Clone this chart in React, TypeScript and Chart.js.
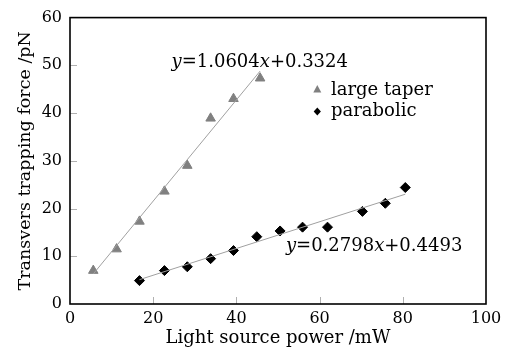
import React, { useEffect, useRef } from "react";
import { Chart, registerables } from "chart.js";

Chart.register(...registerables);

const taperX = [5.6, 11.2, 16.7, 22.7, 28.2, 33.8, 39.3, 45.7];
const taperY = [7.0, 11.5, 17.3, 23.6, 29.0, 38.9, 43.0, 47.3];
const paraX = [16.7, 22.7, 28.2, 33.8, 39.3, 44.9, 50.5, 55.9, 61.9, 70.3, 75.8, 80.6];
const paraY = [4.9, 7.0, 7.8, 9.5, 11.2, 14.1, 15.3, 16.1, 16.1, 19.4, 21.1, 24.4];
const taperFitX = [5.6, 45.7];
const taperFitY = [6.3, 48.8];
const paraFitX = [16.7, 80.6];
const paraFitY = [5.1, 23.0];
const legendLabels = ["large taper", "parabolic"];
const eq1 = { x: 24.4, y: 49.7, parts: [["y", true], ["=1.0604", false], ["x", true], ["+0.3324", false]] as [string, boolean][] };
const eq2 = { x: 51.9, y: 11.0, parts: [["y", true], ["=0.2798", false], ["x", true], ["+0.4493", false]] as [string, boolean][] };
const xTitle = "Light source power /mW";
const yTitle = "Transvers trapping force /pN";

const SERIF = "'DejaVu Serif', serif";

function pts(xs: number[], ys: number[]) {
  return xs.map((x, i) => ({ x, y: ys[i] }));
}

const overlay = {
  id: "overlay",
  afterDraw(chart: any) {
    const ctx = chart.ctx as CanvasRenderingContext2D;
    const { left, right, top, bottom } = chart.chartArea;
    const xs = chart.scales.x;
    const ys = chart.scales.y;
    ctx.save();
    // inward ticks
    ctx.strokeStyle = "#b0b0b0";
    ctx.lineWidth = 1;
    xs.ticks.forEach((t: any) => {
      if (t.value <= 0 || t.value >= 100) return;
      const px = Math.round(xs.getPixelForValue(t.value)) + 0.5;
      ctx.beginPath();
      ctx.moveTo(px, bottom);
      ctx.lineTo(px, bottom - 7);
      ctx.stroke();
    });
    ys.ticks.forEach((t: any) => {
      if (t.value <= 0 || t.value >= 60) return;
      const py = Math.round(ys.getPixelForValue(t.value)) + 0.5;
      ctx.beginPath();
      ctx.moveTo(left, py);
      ctx.lineTo(left + 7, py);
      ctx.stroke();
    });
    // frame
    ctx.strokeStyle = "#000";
    ctx.lineWidth = 1.6;
    ctx.strokeRect(left, top, right - left, bottom - top);
    // equations
    ctx.fillStyle = "#000";
    ctx.textBaseline = "alphabetic";
    ctx.textAlign = "left";
    [eq1, eq2].forEach((eq) => {
      let px = xs.getPixelForValue(eq.x);
      const py = ys.getPixelForValue(eq.y);
      eq.parts.forEach(([txt, it]) => {
        ctx.font = (it ? "italic " : "") + "18px " + SERIF;
        ctx.fillText(txt, px, py);
        px += ctx.measureText(txt).width;
      });
    });
    // legend
    const lx = 317.3;
    // triangle
    ctx.fillStyle = "#808080";
    ctx.beginPath();
    ctx.moveTo(lx, 85);
    ctx.lineTo(lx + 4, 92.5);
    ctx.lineTo(lx - 4, 92.5);
    ctx.closePath();
    ctx.fill();
    // diamond
    ctx.fillStyle = "#000";
    ctx.beginPath();
    ctx.moveTo(lx, 107.5);
    ctx.lineTo(lx + 3.6, 111.5);
    ctx.lineTo(lx, 115.5);
    ctx.lineTo(lx - 3.6, 111.5);
    ctx.closePath();
    ctx.fill();
    ctx.fillStyle = "#000";
    ctx.font = "18px " + SERIF;
    ctx.fillText(legendLabels[0], 331, 94.5);
    ctx.fillText(legendLabels[1], 331, 115.5);
    ctx.restore();
  },
};

export default function App() {
  const ref = useRef<HTMLCanvasElement | null>(null);
  useEffect(() => {
    document.body.style.margin = "0";
    const canvas = ref.current!;
    const chart = new Chart(canvas, {
      type: "scatter",
      data: {
        datasets: [
          {
            label: "fit1",
            type: "line",
            data: pts(taperFitX, taperFitY),
            borderColor: "#a0a0a0",
            borderWidth: 1,
            pointRadius: 0,
            showLine: true,
          } as any,
          {
            label: "fit2",
            type: "line",
            data: pts(paraFitX, paraFitY),
            borderColor: "#a0a0a0",
            borderWidth: 1,
            pointRadius: 0,
            showLine: true,
          } as any,
          {
            label: legendLabels[0],
            data: pts(taperX, taperY),
            pointStyle: "triangle",
            pointRadius: 5.5,
            backgroundColor: "#808080",
            borderColor: "#808080",
            borderWidth: 1,
          },
          {
            label: legendLabels[1],
            data: pts(paraX, paraY),
            pointStyle: "rectRot",
            pointRadius: 5,
            backgroundColor: "#000",
            borderColor: "#000",
            borderWidth: 1,
          },
        ],
      },
      options: {
        animation: false,
        responsive: false,
        maintainAspectRatio: false,
        layout: { padding: { left: 15, right: 30, top: 14, bottom: 0 } },
        plugins: { legend: { display: false }, tooltip: { enabled: false } },
        scales: {
          x: {
            type: "linear",
            min: 0,
            max: 100,
            ticks: { stepSize: 20, color: "#000", font: { family: SERIF, size: 16 }, padding: 5 },
            grid: { display: false, drawTicks: false },
            border: { display: false },
            title: { display: true, text: xTitle, color: "#000", font: { family: SERIF, size: 18 }, padding: { top: 0, bottom: 1 } },
            afterFit: (s: any) => {
              s.height = 46;
            },
          },
          y: {
            type: "linear",
            min: 0,
            max: 60,
            ticks: { stepSize: 10, color: "#000", font: { family: SERIF, size: 16 }, padding: 8 },
            grid: { display: false, drawTicks: false },
            border: { display: false },
            title: { display: true, text: yTitle, color: "#000", font: { family: SERIF, size: 17.5 }, padding: { top: 0, bottom: 0 } },
            afterFit: (s: any) => {
              s.width = 55;
            },
          },
        },
      },
      plugins: [overlay],
    });
    return () => chart.destroy();
  }, []);
  return (
    <div style={{ width: 516, height: 350 }}>
      <canvas ref={ref} width={516} height={350} style={{ display: "block", width: 516, height: 350 }} />
    </div>
  );
}
